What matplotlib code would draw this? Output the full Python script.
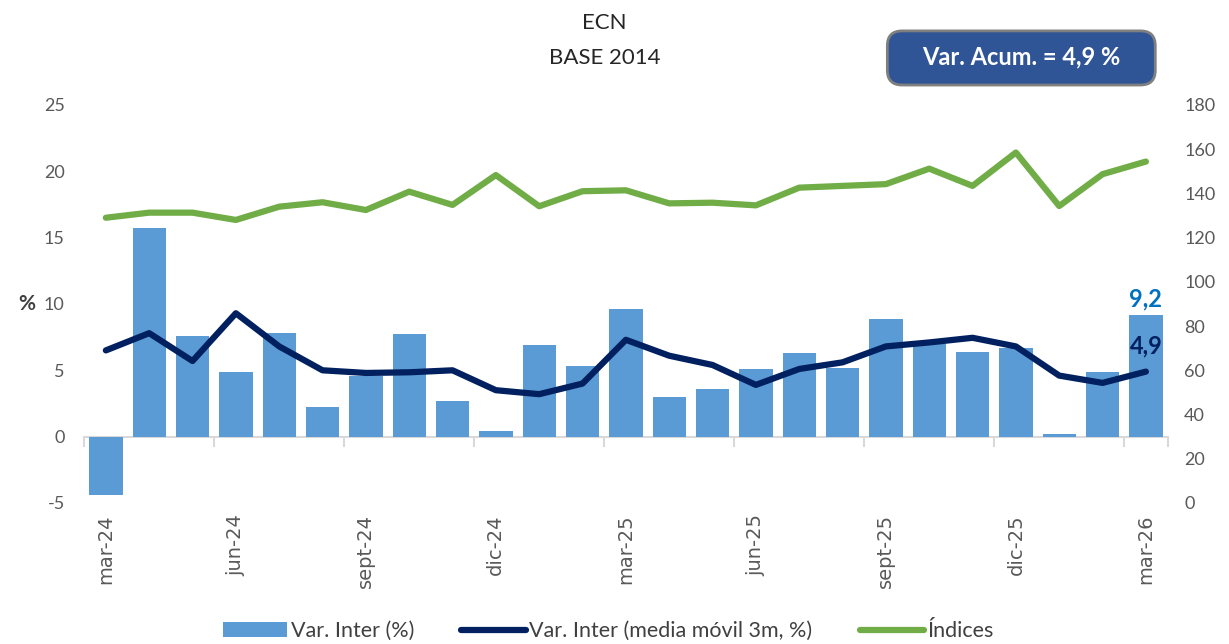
import matplotlib
matplotlib.use("Agg")
import matplotlib.pyplot as plt
from matplotlib.patches import FancyBboxPatch

plt.rcParams["axes.unicode_minus"] = False

# monthly data, mar-24 .. mar-26
months = ["mar-24", "abr-24", "may-24", "jun-24", "jul-24", "ago-24", "sept-24",
          "oct-24", "nov-24", "dic-24", "ene-25", "feb-25", "mar-25", "abr-25",
          "may-25", "jun-25", "jul-25", "ago-25", "sept-25", "oct-25", "nov-25",
          "dic-25", "ene-26", "feb-26", "mar-26"]
var_inter = [-4.4, 15.7, 7.6, 4.9, 7.8, 2.2, 4.6, 7.7, 2.7, 0.4, 6.9, 5.3, 9.6,
             3.0, 3.6, 5.1, 6.3, 5.2, 8.9, 7.0, 6.4, 6.7, 0.2, 4.9, 9.2]
media_movil = [6.5, 7.8, 5.7, 9.3, 6.8, 5.0, 4.8, 4.85, 5.0, 3.5, 3.2, 4.0, 7.3,
               6.1, 5.4, 3.9, 5.1, 5.6, 6.8, 7.1, 7.45, 6.8, 4.6, 4.05, 4.9]
indices = [129, 131.3, 131.3, 128, 134, 136, 132.5, 140.8, 134.8, 148.3, 134.2,
           141, 141.4, 135.5, 135.8, 134.6, 142.6, 143.4, 144.2, 151.2, 143.4,
           158.5, 134.3, 148.7, 154.4]

gray = "#595959"
x = list(range(len(months)))

fig = plt.figure(figsize=(12.29, 6.44), dpi=100)
ax = fig.add_axes([0.0685, 0.219, 0.8815, 0.618])
ax2 = ax.twinx()

bars = ax.bar(x, var_inter, width=0.77, color="#5B9BD5", label="Var. Inter (%)", zorder=2)
mm, = ax.plot(x, media_movil, color="#002060", lw=4.5, solid_capstyle="round",
              label="Var. Inter (media móvil 3m, %)", zorder=4)
idx, = ax2.plot(x, indices, color="#70AD47", lw=4.5, solid_capstyle="round",
                label="Índices")

ax.set_xlim(-0.5, len(months) - 0.5)
ax.set_ylim(-5, 25)
ax.set_yticks(range(-5, 26, 5))
ax2.set_ylim(0, 180)
ax2.set_yticks(range(0, 181, 20))
ax.set_zorder(ax2.get_zorder() + 1)
ax.patch.set_visible(False)

for a in (ax, ax2):
    for s in a.spines.values():
        s.set_visible(False)
ax.tick_params(axis="y", length=0, labelsize=13, labelcolor=gray, pad=14)
ax2.tick_params(axis="y", length=0, labelsize=13, labelcolor=gray, pad=12)
for lab in ax.get_yticklabels() + ax2.get_yticklabels():
    lab.set_family("Lato")

ax.set_xticks(x[::3])
ax.set_xticklabels(months[::3], rotation=90, fontsize=14, color=gray,
                   family="DejaVu Sans")
ax.tick_params(axis="x", length=0, pad=8)

# zero line with category tick marks
zero = ax.secondary_xaxis(5 / 30)
zero.spines["bottom"].set_color("#d9d9d9")
zero.spines["bottom"].set_linewidth(1.5)
zero.set_xticks([i - 0.5 for i in x[::3]] + [len(months) - 0.5])
zero.set_xticklabels([])
zero.tick_params(axis="x", length=7, width=1.5, color="#d9d9d9")

ax.text(-0.045, 10, "%", transform=ax.get_yaxis_transform(), ha="right", va="center",
        fontsize=15, fontweight="bold", color="#404040", family="Lato")

ax.annotate(f"{var_inter[-1]:.1f}".replace(".", ","), (x[-1], var_inter[-1]),
            xytext=(0, 3), textcoords="offset points", ha="center", va="bottom",
            fontsize=17, fontweight="bold", color="#0070C0", family="Lato")
ax.annotate(f"{media_movil[-1]:.1f}".replace(".", ","), (x[-1], media_movil[-1]),
            xytext=(0, 10), textcoords="offset points", ha="center", va="bottom",
            fontsize=17, fontweight="bold", color="#002060", family="Lato")

fig.text(0.492, 0.965, "ECN", ha="center", va="center", fontsize=16,
         color="#262626", family="Lato")
fig.text(0.492, 0.91, "BASE 2014", ha="center", va="center", fontsize=16,
         color="#262626", family="Lato")

box = FancyBboxPatch((0.722, 0.868), 0.218, 0.084, transform=fig.transFigure,
                     boxstyle="round,pad=0,rounding_size=0.012",
                     facecolor="#2F5597", edgecolor="#7f7f7f", lw=2,
                     mutation_aspect=1229 / 644)
fig.patches.append(box)
fig.text(0.831, 0.911, "Var. Acum. = 4,9 %", ha="center", va="center",
         fontsize=17, fontweight="bold", color="white", family="Lato")

fig.legend([bars, mm, idx], [bars.get_label(), mm.get_label(), idx.get_label()],
           loc="center", bbox_to_anchor=(0.495, 0.02),
           ncol=3, frameon=False, handlelength=3.0,
           handletextpad=0.15, columnspacing=2.2,
           prop={"family": "Lato", "size": 15.5}, labelcolor="#404040")

fig.savefig("out.png", dpi=100)
